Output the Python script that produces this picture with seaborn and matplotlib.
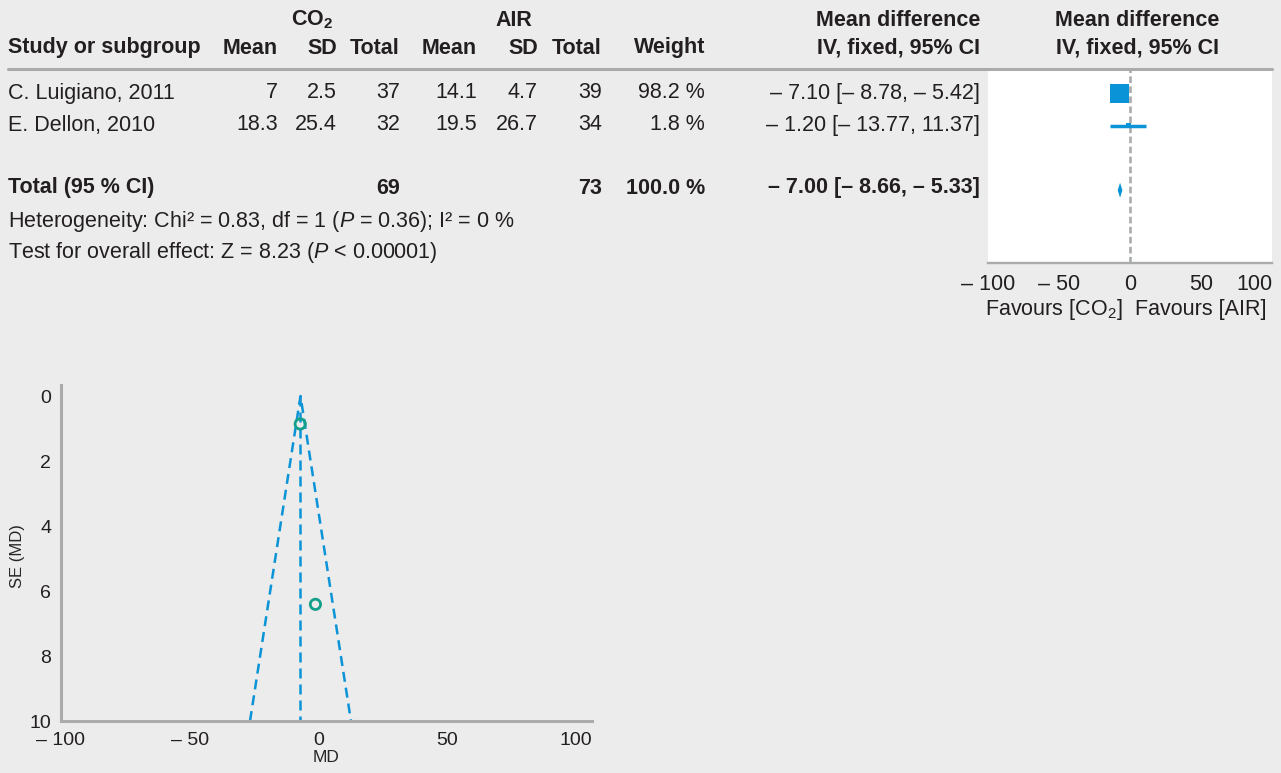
import numpy as np
import pandas as pd
import seaborn as sns
import matplotlib.pyplot as plt
import matplotlib.transforms as mtrans

# study data
studies = ["C. Luigiano, 2011", "E. Dellon, 2010"]
co2_mean = [7, 18.3]
co2_sd = [2.5, 25.4]
co2_n = [37, 32]
air_mean = [14.1, 19.5]
air_sd = [4.7, 26.7]
air_n = [39, 34]
weight = [98.2, 1.8]
md = [-7.10, -1.20]
ci_low = [-8.78, -13.77]
ci_high = [-5.42, 11.37]
se_md = [0.86, 6.41]

total_co2 = 69
total_air = 73
total_weight = 100.0
total_md = -7.00
total_low = -8.66
total_high = -5.33

axis_ticks = [-100, -50, 0, 50, 100]
se_ticks = [0, 2, 4, 6, 8, 10]

BG = "#ebeceb"
GREY = "#a9abad"
BLUE = "#0a93d6"
TEAL = "#139f8a"
TXT = "#231f20"
W, H = 1281, 773

sns.set_theme(style="white")
FONT = ["Liberation Sans Narrow", "Liberation Sans", "DejaVu Sans"]
plt.rcParams["font.family"] = FONT
plt.rcParams["mathtext.fontset"] = "custom"
plt.rcParams["mathtext.rm"] = "Liberation Sans"
plt.rcParams["mathtext.it"] = "Liberation Sans:italic"
plt.rcParams["mathtext.bf"] = "Liberation Sans:bold"
plt.rcParams["text.color"] = TXT

FS = 15.5


def dash(v, fmt="{:.2f}"):
    """Number with the en dash the journal uses for minus."""
    s = fmt.format(abs(v))
    return "– " + s if v < 0 else s


def ci_text(m, lo, hi):
    return f"{dash(m)} [{dash(lo)}, {dash(hi)}]"


def put(x, y, s, ha="left", bold=False, size=FS, **kw):
    fig.text(x / W, 1 - y / H, s, ha=ha, va="center", size=size,
             weight="bold" if bold else "normal", **kw)


fig = plt.figure(figsize=(W / 100, H / 100), dpi=100, facecolor=BG)

# ---- table header
put(312, 20, r"CO$_\mathbf{2}$", ha="center", bold=True)
put(514, 20, "AIR", ha="center", bold=True)
put(980, 20, "Mean difference", ha="right", bold=True)
put(1137, 20, "Mean difference", ha="center", bold=True)
cols = [(278, "Mean"), (337, "SD"), (400, "Total"), (477, "Mean"),
        (538, "SD"), (602, "Total"), (705, "Weight")]
put(8, 48, "Study or subgroup", bold=True)
for x, lab in cols:
    put(x, 48, lab, ha="right", bold=True)
put(980, 48, "IV, fixed, 95% CI", ha="right", bold=True)
put(1137, 48, "IV, fixed, 95% CI", ha="center", bold=True)
fig.add_artist(plt.Line2D([8 / W, 1272 / W], [1 - 69 / H, 1 - 69 / H],
                          color=GREY, lw=2.2))

# ---- study rows
row_y = [93, 125]
for i, name in enumerate(studies):
    y = row_y[i]
    put(8, y, name)
    vals = [f"{co2_mean[i]:g}", f"{co2_sd[i]:g}", f"{co2_n[i]}",
            f"{air_mean[i]:g}", f"{air_sd[i]:g}", f"{air_n[i]}",
            f"{weight[i]:.1f} %"]
    for (x, _), v in zip(cols, vals):
        put(x, y, v, ha="right")
    put(980, y, ci_text(md[i], ci_low[i], ci_high[i]), ha="right")

put(8, 188, "Total (95 % CI)", bold=True)
put(400, 188, f"{total_co2}", ha="right", bold=True)
put(602, 188, f"{total_air}", ha="right", bold=True)
put(705, 188, f"{total_weight:.1f} %", ha="right", bold=True)
put(980, 188, ci_text(total_md, total_low, total_high), ha="right", bold=True)
put(8, 222, r"Heterogeneity: Chi² = 0.83, df = 1 ($\mathit{P}$ = 0.36); I² = 0 %")
put(8, 253, r"Test for overall effect: Z = 8.23 ($\mathit{P}$ < 0.00001)")

# ---- forest plot panel
rows = [0, 1]
ax_f = fig.add_axes([988 / W, 1 - 263 / H, (1272 - 988) / W, (263 - 70) / H])
ax_f.set_facecolor("white")
ax_f.axvline(0, color=GREY, lw=1.9, dashes=(2.5, 1.3), zorder=1)
ax_f.hlines(rows, ci_low, ci_high, color=BLUE, lw=2.5, zorder=2)
sns.scatterplot(x=md, y=rows, size=weight, sizes=(13, 190), marker="s",
                color=BLUE, linewidth=0, legend=False, ax=ax_f, zorder=3)
dh = 0.23
ax_f.fill([total_low, total_md, total_high, total_md],
          [3, 3 - dh, 3, 3 + dh], color=BLUE, lw=0, zorder=3)
ax_f.set_xlim(-100, 100)
ax_f.set_ylim(5.25, -0.72)
ax_f.set_yticks([])
ax_f.set_xticks(axis_ticks)
ax_f.set_xticklabels([dash(t, "{:g}") for t in axis_ticks], size=FS)
# last label sits flush with the panel edge as in the journal figure
last = ax_f.get_xticklabels()[-1]
last.set_horizontalalignment("right")
last.set_transform(last.get_transform() + mtrans.ScaledTranslation(-4 / 100, 0, fig.dpi_scale_trans))
for s in ["top", "left", "right"]:
    ax_f.spines[s].set_visible(False)
ax_f.spines["bottom"].set_color(GREY)
ax_f.spines["bottom"].set_linewidth(1.7)
ax_f.tick_params(axis="x", direction="inout", length=9.5, width=1.7,
                 color=GREY, pad=3, labelcolor=TXT)
ax_f.set_xlabel("")
put(1123, 310, r"Favours [CO$_2$]", ha="right")
put(1135, 310, "Favours [AIR]", ha="left")

# ---- funnel plot
ax_u = fig.add_axes([61 / W, 1 - 721 / H, (592 - 61) / W, (721 - 385) / H])
ax_u.set_facecolor(BG)
se_end = se_ticks[-1]
ax_u.plot([total_md, total_md], [0, se_end], color=BLUE, lw=1.8, dashes=(4, 2.4))
ax_u.plot([total_md - 1.96 * se_end, total_md, total_md + 1.96 * se_end],
          [se_end, 0, se_end], color=BLUE, lw=1.8, dashes=(4, 2.4))
sns.scatterplot(x=md, y=se_md, marker="o", s=55, facecolor="none",
                edgecolor=TEAL, linewidth=2, ax=ax_u, zorder=4)
ax_u.set_xlim(-100, 106.2)
ax_u.set_ylim(10, -0.34)
ax_u.set_xticks(axis_ticks)
ax_u.set_xticklabels([dash(t, "{:g}") for t in axis_ticks], size=FS - 1.5)
ax_u.set_yticks(se_ticks)
ax_u.set_yticklabels([str(t) for t in se_ticks], size=FS - 1.5)
ax_u.tick_params(axis="y", length=0, pad=7, labelcolor=TXT)
ax_u.tick_params(axis="x", length=0, pad=8, labelcolor=TXT)
ax_u.set_xlabel("MD", size=FS - 3, labelpad=1)
ax_u.set_ylabel("SE (MD)", size=FS - 3.5)
ax_u.yaxis.set_label_coords(-36 / 531, 0.49)
for s in ["top", "right"]:
    ax_u.spines[s].set_visible(False)
for s in ["left", "bottom"]:
    ax_u.spines[s].set_color(GREY)
    ax_u.spines[s].set_linewidth(2.2)

fig.savefig("out.png", dpi=100, facecolor=BG)
